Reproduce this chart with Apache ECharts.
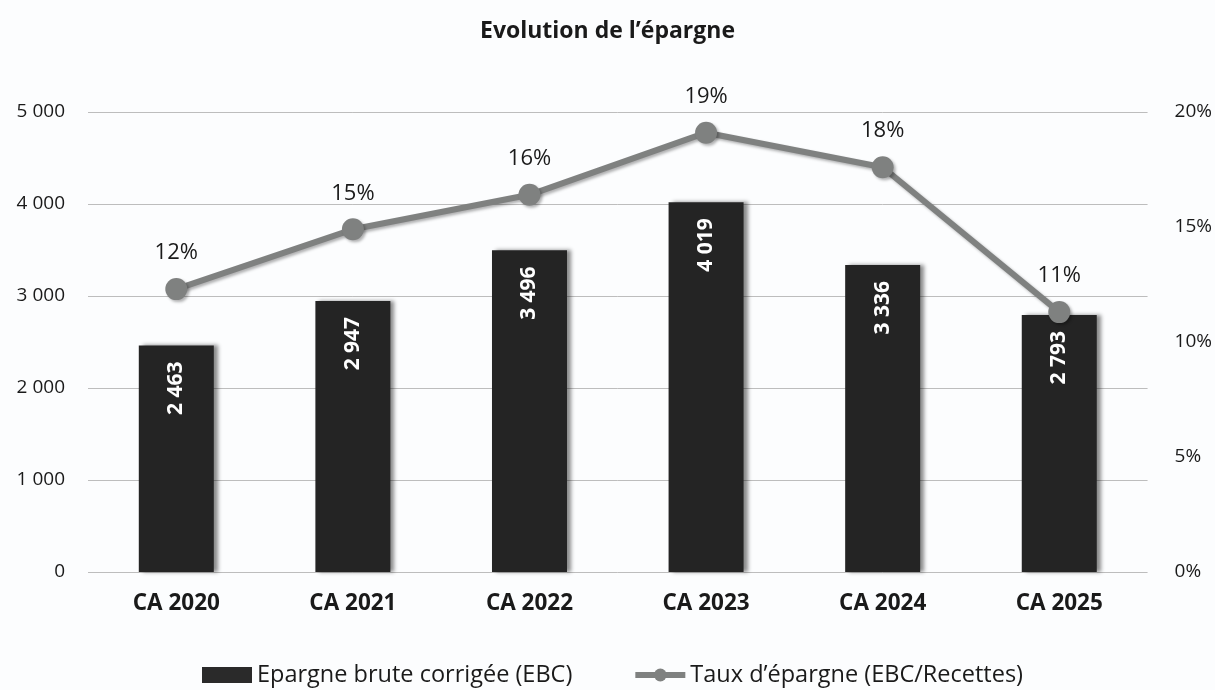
<!DOCTYPE html>
<html><head><meta charset="utf-8">
<script src="https://cdn.jsdelivr.net/npm/echarts@6/dist/echarts.min.js"></script>
<style>html,body{margin:0;padding:0;background:#fcfdfe;}#c{width:1215px;height:690px;}</style>
</head><body><div id="c"></div>
<script>
const categories = ['CA 2020','CA 2021','CA 2022','CA 2023','CA 2024','CA 2025'];
const ebc = [2463, 2947, 3496, 4019, 3336, 2793];
const taux = [12.3, 14.9, 16.4, 19.1, 17.6, 11.3];
const leftTicks = {min:0, max:5000, interval:1000};
const rightTicks = {min:0, max:20, interval:5};

const fmtThousands = v => String(v).replace(/\B(?=(\d{3})+(?!\d))/g, ' ');
const FONT = '"Open Sans", Lato, sans-serif';

const chart = echarts.init(document.getElementById('c'), null, {renderer:'canvas'});
chart.setOption({
  backgroundColor:'#fcfdfe',
  animation:false,
  textStyle:{fontFamily:FONT},
  title:{text:'Evolution de l\u2019\u00e9pargne', left:'center', top:15,
    textStyle:{fontFamily:FONT, fontSize:23, fontWeight:'bold', color:'#1a1a1a'}},
  legend:{top:663, left:202, padding:0, itemGap:60, itemWidth:50, itemHeight:16,
    textStyle:{fontFamily:FONT, fontSize:23.5, color:'#1a1a1a'},
    data:[{name:'Epargne brute corrig\u00e9e (EBC)', icon:'rect', itemStyle:{color:'#2a2a2a'}},
          {name:'Taux d\u2019\u00e9pargne (EBC/Recettes)', lineStyle:{width:6, color:'#7f8180'}}]},
  grid:{left:88, right:65, top:112, bottom:118, containLabel:false},
  xAxis:{type:'category', data:categories,
    axisLine:{show:false}, axisTick:{show:false},
    axisLabel:{fontFamily:FONT, fontSize:22.5, fontWeight:'bold', color:'#1a1a1a', margin:20}},
  yAxis:[
    {type:'value', min:leftTicks.min, max:leftTicks.max, interval:leftTicks.interval,
     axisLabel:{fontFamily:FONT, fontSize:19, color:'#1a1a1a', margin:23, formatter:v=>fmtThousands(v)},
     splitLine:{lineStyle:{color:'#bdbdbd', width:1}}, axisLine:{show:false}, axisTick:{show:false}},
    {type:'value', min:rightTicks.min, max:rightTicks.max, interval:rightTicks.interval,
     axisLabel:{fontFamily:FONT, fontSize:19, color:'#1a1a1a', margin:27, formatter:v=>v+'%'},
     splitLine:{show:false}, axisLine:{show:false}, axisTick:{show:false}}
  ],
  series:[
    {name:'Epargne brute corrig\u00e9e (EBC)', type:'bar', data:ebc, barWidth:75,
     itemStyle:{color:'#242424', shadowColor:'rgba(0,0,0,0.45)', shadowBlur:4, shadowOffsetX:4, shadowOffsetY:0},
     label:{show:true, position:'insideTop', rotate:90, align:'right', verticalAlign:'middle', distance:16,
       color:'#ffffff', fontFamily:FONT, fontSize:21, fontWeight:'bold', formatter:p=>fmtThousands(p.value)}},
    {name:'Taux d\u2019\u00e9pargne (EBC/Recettes)', type:'line', yAxisIndex:1, data:taux,
     symbol:'circle', symbolSize:22,
     lineStyle:{color:'#7f8180', width:6, shadowColor:'rgba(0,0,0,0.3)', shadowBlur:3, shadowOffsetX:2, shadowOffsetY:2},
     itemStyle:{color:'#7f8180', shadowColor:'rgba(0,0,0,0.3)', shadowBlur:3, shadowOffsetX:2, shadowOffsetY:2},
     label:{show:true, position:'top', distance:14, color:'#1a1a1a', fontFamily:FONT, fontSize:22,
       formatter:p=>Math.round(p.value)+'%'}}
  ]
});
</script></body></html>
